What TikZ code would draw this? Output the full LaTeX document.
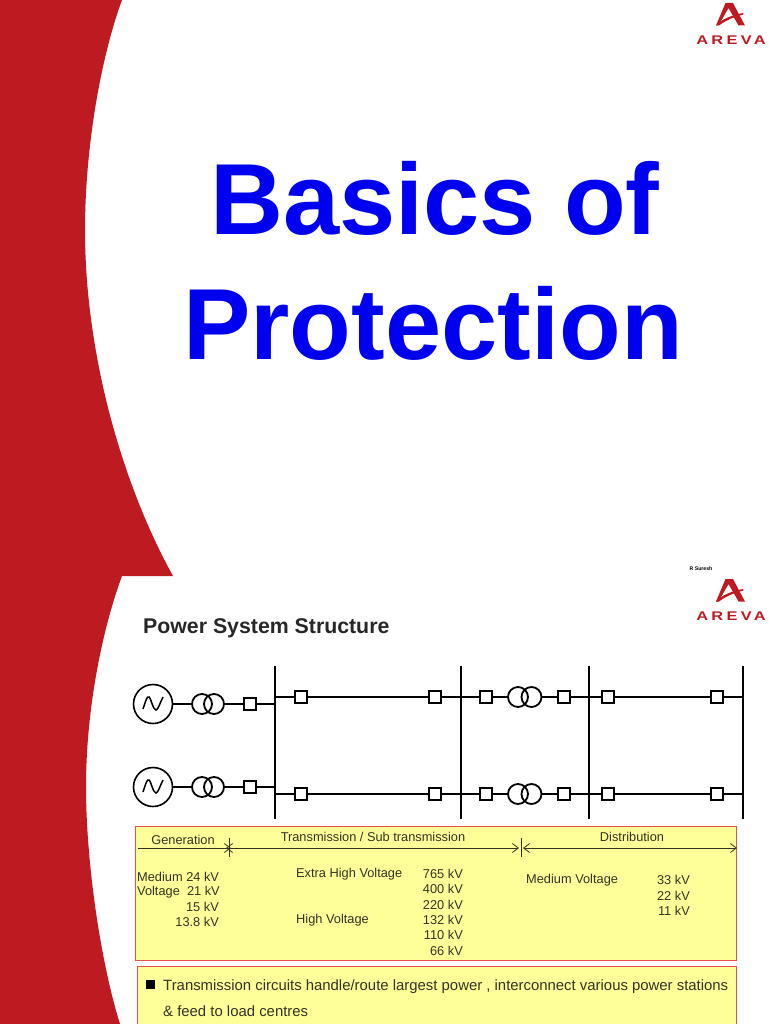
\documentclass[tikz,border=0pt]{standalone}
\usepackage{fontspec}
\setmainfont{Liberation Sans}
\newfontfamily\logofont[FakeStretch=1.3,LetterSpace=26]{Liberation Sans}
\usepackage{xcolor}
\usetikzlibrary{arrows.meta}
\definecolor{arevared}{HTML}{BE1A22}
\definecolor{titleblue}{HTML}{0000F0}
\definecolor{softyellow}{HTML}{FFFF99}
\definecolor{boxred}{HTML}{E8504A}
\definecolor{textgray}{HTML}{333322}
\tikzset{
  txt/.style={inner sep=0pt, text=textgray, font=\fontsize{12.8}{15}\selectfont},
  txtr/.style={txt, anchor=east},
  txtl/.style={txt, anchor=west},
  notetext/.style={anchor=base west, inner sep=0pt, text=textgray, font=\fontsize{14.9}{17}\selectfont},
  title/.style={anchor=base, inner sep=0pt, text=titleblue, font=\bfseries\fontsize{101}{120}\selectfont},
  breaker/.style={draw=black, line width=1.6pt, fill=white, minimum size=12.5pt, inner sep=0pt},
  source/.style={draw=black, line width=1.6pt, circle, minimum size=39pt, inner sep=0pt},
  winding/.style={draw=black, line width=1.8pt, circle, minimum size=20pt, inner sep=0pt},
  busbar/.style={draw=black, line width=1.7pt},
  mainbar/.style={draw=black, line width=2.8pt},
  wire/.style={draw=black, line width=1.4pt},
  stub/.style={draw=black, line width=2.2pt},
  infobox/.style={draw=boxred, line width=1pt, fill=softyellow},
  spanline/.style={draw=textgray, line width=.8pt},
  spanarrow/.style={spanline, -{Straight Barb[length=6pt,width=9pt]}},
  spanboth/.style={spanline, {Straight Barb[length=6pt,width=9pt]}-{Straight Barb[length=6pt,width=9pt]}}
}
\begin{document}
\begin{tikzpicture}[x=1pt, y=-1pt]
  \useasboundingbox (0,0) rectangle (768,1024);
  % red bands
  \fill[arevared] (0,0) -- (122,0) .. controls (100,60) and (85,150) .. (85,230) .. controls (85,350) and (120,480) .. (173,576) -- (122,576) .. controls (102,630) and (86,710) .. (86,787) .. controls (86,860) and (100,960) .. (120,1024) -- (0,1024) -- cycle;

  % titles
  \node[title] (basics) at (435,235) {Basics of};
  \node[title] (protection) at (433,359) {Protection};
  \node[inner sep=0pt, font=\bfseries\fontsize{5.2}{6}\selectfont] (author) at (701,569) {R Suresh};
  \node[anchor=base west, inner sep=0pt, font=\bfseries\fontsize{21.3}{24}\selectfont, text=black!85] (heading) at (143,633) {Power System Structure};

  % logos
  \foreach \name/\yy in {logoa/0, logob/576} {
    \begin{scope}[yshift=-\yy pt]
      \fill[arevared] (725.5,3) -- (733,3) -- (745,25.5) -- (738.5,25.5) -- (728.5,8) -- (718.5,25.5) -- (716,25.5) -- cycle;
      \fill[arevared] (716,25.5) .. controls (722,19) and (732,15) .. (743,13) -- (743.5,14.5) .. controls (733,17) and (725,21) .. (719,25.5) -- cycle;
      \node[inner sep=0pt, text=arevared, font=\logofont\bfseries\fontsize{12.6}{14}\selectfont] (\name) at (731,40.5) {AREVA};
    \end{scope}
  }

  % bus bars
  \draw[mainbar] (275,666) coordinate (mtop) -- (275,819) coordinate (mbot);
  \draw[busbar] (461,666) coordinate (btop) -- (461,819) coordinate (bbot);
  \draw[busbar] (589,666) coordinate (ctop) -- (589,819) coordinate (cbot);
  \draw[busbar] (743,666) coordinate (dtop) -- (743,819) coordinate (dbot);

  % generators and transformers
  \foreach \name/\yy/\ly in {a/704/697, b/787/794} {
    \node[source] (gen\name) at (153,\yy) {};
    \draw[line width=1.5pt] (143,\yy+5) .. controls (146,\yy-4) and (147,\yy-8) .. (149,\yy-7) .. controls (151,\yy-6) and (153,\yy+6) .. (156,\yy+6) .. controls (158,\yy+6) and (160,\yy-1) .. (163,\yy-7);
    \node[winding] (ta\name) at (202,\yy) {};
    \node[winding] (tb\name) at (214,\yy) {};
    \node[breaker] (cb\name) at (250,\yy) {};
    \coordinate (mj\name) at (275,\yy);
    \draw[wire] (gen\name) -- (ta\name);
    \draw[wire] (tb\name) -- (cb\name);
    \draw[wire] (cb\name) -- (mj\name);
    \coordinate (mk\name) at (275,\ly);
    \coordinate (bk\name) at (461,\ly);
    \coordinate (ck\name) at (589,\ly);
    \coordinate (dk\name) at (743,\ly);
    \node[breaker] (la\name) at (301,\ly) {};
    \node[breaker] (lb\name) at (435,\ly) {};
    \node[breaker] (lc\name) at (486,\ly) {};
    \node[winding] (tc\name) at (518,\ly) {};
    \node[winding] (td\name) at (531.5,\ly) {};
    \node[breaker] (ld\name) at (564,\ly) {};
    \node[breaker] (le\name) at (608,\ly) {};
    \node[breaker] (lf\name) at (717,\ly) {};
    \draw[stub] (mk\name) -- (la\name);
    \draw[wire] (la\name) -- (lb\name);
    \draw[stub] (lb\name) -- (bk\name);
    \draw[wire] (bk\name) -- (lc\name);
    \draw[wire] (lc\name) -- (tc\name);
    \draw[wire] (td\name) -- (ld\name);
    \draw[stub] (ld\name) -- (ck\name);
    \draw[stub] (ck\name) -- (le\name);
    \draw[wire] (le\name) -- (lf\name);
    \draw[stub] (lf\name) -- (dk\name);
  }

  % voltage table
  \node[infobox, anchor=north west, minimum width=601pt, minimum height=134pt, inner sep=0pt] (table) at (135,826) {};
  \node[txt] (gen) at (183,840) {Generation};
  \node[txt] (trans) at (373,837) {Transmission / Sub transmission};
  \node[txt] (dist) at (632,837) {Distribution};
  \coordinate (sa) at (138,848);
  \coordinate (sb) at (231,848);
  \coordinate (sbb) at (226,848);
  \coordinate (sc) at (519,848);
  \coordinate (scc) at (523,848);
  \coordinate (sd) at (737,848);
  \draw[spanarrow] (sa) -- (sb);
  \draw[spanboth] (sbb) -- (sc);
  \draw[spanboth] (scc) -- (sd);
  \draw[spanline] (229,838) coordinate (ta) -- (229,857) coordinate (tb);
  \draw[spanline] (521,838) coordinate (tc) -- (521,857) coordinate (td);

  \node[txtl] (med) at (137,877) {Medium 24 kV};
  \node[txtl] (vol) at (137,892) {Voltage\ \ 21 kV};
  \node[txtr] (kv15) at (219,907) {15 kV};
  \node[txtr] (kv13) at (219,922) {13.8 kV};
  \node[txtl] (ehv) at (296,874) {Extra High Voltage};
  \node[txtl] (hv) at (296,920) {High Voltage};
  \foreach \nm/\val/\yy in {a/765/874, b/400/889, c/220/905, d/132/920, e/110/935, f/66/951}
    \node[txtr] (kv\nm) at (463,\yy) {\val\ kV};
  \node[txtl] (mv) at (526,880) {Medium Voltage};
  \foreach \nm/\val/\yy in {g/33/880, h/22/896, i/11/911}
    \node[txtr] (kv\nm) at (690,\yy) {\val\ kV};

  % note box
  \node[infobox, anchor=north west, minimum width=599pt, minimum height=70pt, inner sep=0pt] (note) at (137,966) {};
  \node[fill=black, minimum size=9pt, inner sep=0pt] (bullet) at (150,984.5) {};
  \node[notetext] (linea) at (163,990) {Transmission circuits handle/route largest power , interconnect various power stations};
  \node[notetext] (lineb) at (163,1016) {\& feed to load centres};
\end{tikzpicture}
\end{document}
